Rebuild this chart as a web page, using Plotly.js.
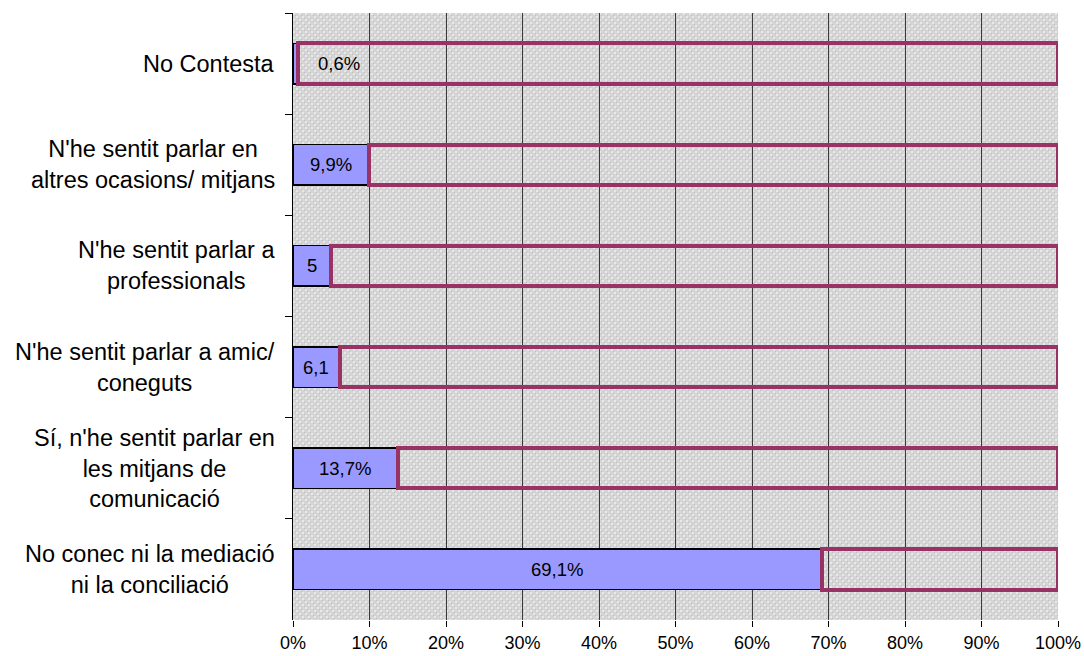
<!DOCTYPE html>
<html>
<head>
<meta charset="utf-8">
<script src="https://cdn.plot.ly/plotly-3.0.1.min.js"></script>
<style>
html, body { margin: 0; padding: 0; background: #fff; }
#chart { width: 1084px; height: 656px; }
</style>
</head>
<body>
<div id="chart"></div>
<script>
// Categories, top to bottom
var categories = [
  "No Contesta",
  "N'he sentit parlar en<br>altres ocasions/ mitjans",
  "N'he sentit parlar a<br>professionals",
  "N'he sentit parlar a amic/<br>coneguts",
  "Sí, n'he sentit parlar en<br>les mitjans de<br>comunicació",
  "No conec ni la mediació<br>ni la conciliació"
];
var values = [0.6, 9.9, 5, 6.1, 13.7, 69.1];
var valueLabels = ["0,6%", "9,9%", "5", "6,1", "13,7%", "69,1%"];
var xTickValues = [0, 10, 20, 30, 40, 50, 60, 70, 80, 90, 100];
var xTickLabels = ["0%", "10%", "20%", "30%", "40%", "50%", "60%", "70%", "80%", "90%", "100%"];

var remainder = values.map(function (v) { return 100 - v; });
var font = "Liberation Sans, Arial, sans-serif";

var traces = [
  {
    type: "bar", orientation: "h", y: categories, x: values,
    marker: { color: "#9999FF", line: { color: "#000000", width: 1.5 } },
    hoverinfo: "skip", showlegend: false
  },
  {
    type: "bar", orientation: "h", y: categories, x: remainder,
    marker: { color: "rgba(0,0,0,0)", line: { color: "#993366", width: 4 } },
    hoverinfo: "skip", showlegend: false
  }
];

var annotations = [];
categories.forEach(function (c, i) {
  annotations.push({
    xref: "paper", yref: "y", x: 0, y: c, xanchor: "right", yanchor: "middle",
    xshift: -16, align: "center", showarrow: false, text: c,
    font: { family: font, size: 23.5, color: "#000" }
  });
  var v = values[i];
  annotations.push({
    xref: "x", yref: "y", x: v < 2 ? 6 : v / 2, y: c,
    xanchor: "center", yanchor: "middle", showarrow: false, text: valueLabels[i],
    font: { family: font, size: 18.5, color: "#000" }
  });
});

// background hatch pattern as an SVG image
var W = 765, H = 607;
var svg = '<svg xmlns="http://www.w3.org/2000/svg" width="' + W + '" height="' + H + '" viewBox="0 0 ' + W + ' ' + H + '">' +
  '<defs><pattern id="p" width="6" height="6" patternUnits="userSpaceOnUse">' +
  '<rect width="6" height="6" fill="#d4d4d4"/>' +
  '<rect x="0" y="0" width="2" height="2" fill="#e8e8e8"/>' +
  '<rect x="3" y="3" width="2" height="2" fill="#e8e8e8"/>' +
  '<rect x="2" y="2" width="1" height="1" fill="#bfbfbf"/>' +
  '<rect x="5" y="5" width="1" height="1" fill="#bfbfbf"/>' +
  '</pattern></defs><rect width="100%" height="100%" fill="url(#p)"/></svg>';
var bgImg = "data:image/svg+xml;base64," + btoa(svg);

var layout = {
  width: 1084, height: 656,
  margin: { l: 293, r: 26, t: 13, b: 36 },
  paper_bgcolor: "#ffffff",
  plot_bgcolor: "#d4d4d4",
  barmode: "stack",
  bargap: 0.6,
  font: { family: font, size: 18, color: "#000" },
  images: [{
    source: bgImg, xref: "paper", yref: "paper", x: 0, y: 1,
    sizex: 1, sizey: 1, xanchor: "left", yanchor: "top",
    sizing: "stretch", layer: "below"
  }],
  xaxis: {
    range: [0, 100], tickvals: xTickValues, ticktext: xTickLabels,
    ticks: "outside", ticklen: 6, tickcolor: "#000", tickwidth: 1,
    showgrid: true, gridcolor: "#3a3a3a", gridwidth: 1,
    zeroline: false, showline: false,
    tickfont: { family: font, size: 18, color: "#000" }, fixedrange: true
  },
  yaxis: {
    type: "category", autorange: "reversed",
    showticklabels: false, ticks: "outside", ticklen: 7, tickcolor: "#000",
    tickson: "boundaries", showgrid: false, zeroline: false,
    showline: true, linecolor: "#000", linewidth: 1, fixedrange: true
  },
  annotations: annotations
};

Plotly.newPlot("chart", traces, layout, { displayModeBar: false, staticPlot: true });
</script>
</body>
</html>
